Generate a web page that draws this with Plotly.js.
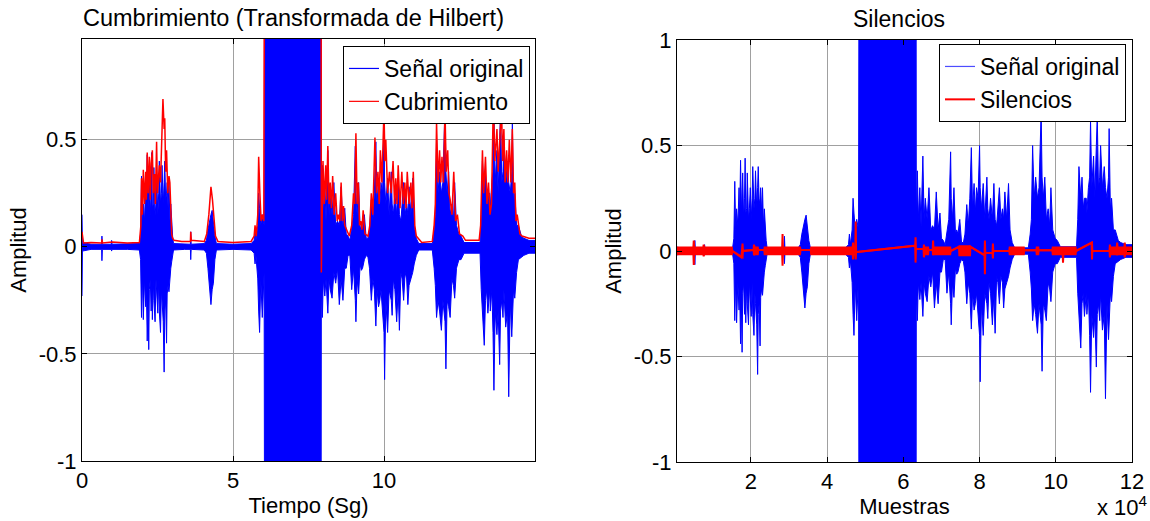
<!DOCTYPE html>
<html><head><meta charset="utf-8">
<script src="https://cdn.plot.ly/plotly-3.0.1.min.js"></script>
<style>html,body{margin:0;padding:0;background:#fff}#chart{width:1150px;height:521px}</style>
</head><body><div id="chart"></div>
<script>
// Sampling rate linking seconds (left panel) to samples (right panel)
const FS = 8000;

// Original signal: upper / lower peak envelope (time in s)
const blueT = [
  0.00, 0.015, 0.30, 0.65, 0.66, 0.675, 0.97, 0.98, 0.995, 1.50,
  1.90, 1.94, 1.97, 2.00, 2.03, 2.07, 2.11, 2.13, 2.16, 2.19,
  2.21, 2.23, 2.26, 2.29, 2.31, 2.33, 2.36, 2.38, 2.42, 2.45,
  2.48, 2.51, 2.54, 2.56, 2.60, 2.63, 2.65, 2.69, 2.72, 2.74,
  2.77, 2.80, 2.82, 2.85, 2.88, 2.91, 2.94, 2.97, 3.00, 3.03,
  3.40, 3.59, 3.60, 3.615, 4.05, 4.12, 4.17, 4.22, 4.27, 4.31,
  4.35, 4.40, 4.45, 5.00, 5.60, 5.70, 5.73, 5.76, 5.82, 5.85,
  5.88, 5.92, 5.97, 6.03, 6.04, 7.92, 7.925, 7.96, 7.99, 8.04,
  8.08, 8.14, 8.18, 8.22, 8.28, 8.34, 8.40, 8.46, 8.52, 8.58,
  8.64, 8.70, 8.75, 8.81, 8.87, 8.93, 8.99, 9.05, 9.07, 9.11,
  9.16, 9.21, 9.25, 9.29, 9.35, 9.41, 9.47, 9.52, 9.58, 9.63,
  9.68, 9.73, 9.77, 9.82, 9.86, 9.90, 9.95, 10.00, 10.02, 10.06,
  10.12, 10.17, 10.24, 10.27, 10.31, 10.36, 10.42, 10.47, 10.51, 10.56,
  10.60, 10.65, 10.70, 10.75, 10.79, 10.83, 10.89, 10.95, 11.00, 11.07,
  11.15, 11.60, 11.66, 11.70, 11.74, 11.79, 11.84, 11.90, 11.95, 12.02,
  12.05, 12.09, 12.14, 12.19, 12.25, 12.30, 12.34, 12.40, 12.48, 12.55,
  12.65, 13.18, 13.22, 13.26, 13.32, 13.36, 13.40, 13.44, 13.50, 13.52,
  13.57, 13.61, 13.64, 13.68, 13.74, 13.78, 13.83, 13.86, 13.90, 13.94,
  13.97, 14.03, 14.09, 14.13, 14.18, 14.23, 14.25, 14.29, 14.33, 14.39,
  14.45, 14.55, 14.63, 14.80, 15.00
];
const blueHi = [
  0.15, 0.02, 0.012, 0.012, 0.05, 0.012, 0.012, 0.03, 0.012, 0.012,
  0.015, 0.06, 0.33, 0.10, 0.20, 0.12, 0.30, 0.15, 0.43, 0.18,
  0.30, 0.37, 0.15, 0.25, 0.44, 0.18, 0.20, 0.37, 0.15, 0.20,
  0.30, 0.15, 0.25, 0.40, 0.20, 0.25, 0.38, 0.20, 0.30, 0.40,
  0.22, 0.25, 0.30, 0.18, 0.30, 0.12, 0.20, 0.08, 0.05, 0.015,
  0.012, 0.012, 0.07, 0.012, 0.015, 0.03, 0.08, 0.12, 0.15, 0.17,
  0.10, 0.05, 0.015, 0.012, 0.015, 0.03, 0.08, 0.03, 0.10, 0.25,
  0.18, 0.10, 0.15, 0.10, 1.0, 1.0, 0.15, 0.38, 0.15, 0.30,
  0.12, 0.45, 0.15, 0.25, 0.15, 0.30, 0.10, 0.12, 0.10, 0.28,
  0.10, 0.18, 0.06, 0.05, 0.03, 0.08, 0.15, 0.47, 0.25, 0.15,
  0.30, 0.08, 0.10, 0.08, 0.15, 0.04, 0.04, 0.08, 0.22, 0.12,
  0.25, 0.49, 0.20, 0.32, 0.18, 0.30, 0.25, 0.50, 0.30, 0.20,
  0.32, 0.15, 0.35, 0.20, 0.15, 0.25, 0.15, 0.32, 0.15, 0.12,
  0.20, 0.30, 0.15, 0.20, 0.15, 0.28, 0.15, 0.32, 0.10, 0.04,
  0.015, 0.015, 0.08, 0.15, 0.50, 0.25, 0.35, 0.25, 0.30, 0.66,
  0.35, 0.25, 0.35, 0.15, 0.20, 0.12, 0.30, 0.10, 0.06, 0.05,
  0.02, 0.02, 0.15, 0.40, 0.25, 0.35, 0.20, 0.25, 0.25, 0.18,
  0.30, 0.35, 0.62, 0.30, 0.45, 0.25, 0.50, 0.64, 0.30, 0.35,
  0.50, 0.30, 0.40, 0.30, 0.25, 0.35, 0.58, 0.20, 0.25, 0.10,
  0.10, 0.05, 0.04, 0.03, 0.03
];
const blueLo = [
  -0.23, -0.02, -0.012, -0.012, -0.065, -0.012, -0.012, -0.02, -0.012, -0.012,
  -0.015, -0.06, -0.33, -0.12, -0.34, -0.15, -0.28, -0.18, -0.44, -0.25,
  -0.48, -0.20, -0.15, -0.30, -0.18, -0.34, -0.15, -0.25, -0.35, -0.15,
  -0.28, -0.31, -0.15, -0.30, -0.40, -0.20, -0.25, -0.35, -0.585, -0.30,
  -0.25, -0.45, -0.22, -0.18, -0.21, -0.12, -0.10, -0.07, -0.05, -0.015,
  -0.012, -0.012, -0.06, -0.012, -0.015, -0.03, -0.10, -0.18, -0.27, -0.20,
  -0.17, -0.06, -0.015, -0.012, -0.015, -0.03, -0.08, -0.04, -0.15, -0.30,
  -0.40, -0.15, -0.33, -0.12, -1.0, -1.0, -0.20, -0.33, -0.15, -0.23,
  -0.15, -0.31, -0.15, -0.20, -0.24, -0.12, -0.17, -0.10, -0.27, -0.15,
  -0.25, -0.10, -0.10, -0.04, -0.04, -0.20, -0.10, -0.25, -0.35, -0.15,
  -0.22, -0.08, -0.11, -0.10, -0.06, -0.04, -0.05, -0.10, -0.25, -0.15,
  -0.20, -0.37, -0.20, -0.28, -0.25, -0.20, -0.30, -0.40, -0.62, -0.25,
  -0.40, -0.20, -0.25, -0.32, -0.15, -0.20, -0.35, -0.20, -0.39, -0.12,
  -0.15, -0.25, -0.12, -0.15, -0.27, -0.18, -0.15, -0.12, -0.08, -0.04,
  -0.015, -0.015, -0.10, -0.18, -0.33, -0.25, -0.30, -0.39, -0.25, -0.35,
  -0.57, -0.25, -0.28, -0.33, -0.15, -0.18, -0.24, -0.10, -0.06, -0.06,
  -0.03, -0.03, -0.20, -0.30, -0.46, -0.25, -0.20, -0.31, -0.20, -0.30,
  -0.20, -0.40, -0.67, -0.30, -0.41, -0.30, -0.55, -0.30, -0.25, -0.33,
  -0.20, -0.375, -0.30, -0.70, -0.25, -0.42, -0.30, -0.20, -0.24, -0.12,
  -0.06, -0.05, -0.04, -0.03, -0.03
];

// Hilbert envelope ("Cubrimiento"), time in s
const hilbT = [
  0.00, 0.02, 0.05, 0.30, 0.65, 0.66, 0.68, 1.00, 1.50, 1.90,
  1.95, 1.97, 2.00, 2.03, 2.07, 2.11, 2.13, 2.16, 2.19, 2.23,
  2.26, 2.29, 2.33, 2.36, 2.40, 2.43, 2.47, 2.50, 2.56, 2.60,
  2.64, 2.68, 2.72, 2.74, 2.77, 2.80, 2.84, 2.88, 2.91, 2.94,
  2.97, 3.00, 3.05, 3.30, 3.59, 3.60, 3.62, 4.05, 4.13, 4.20,
  4.27, 4.32, 4.38, 4.42, 4.50, 5.00, 5.60, 5.70, 5.73, 5.77,
  5.82, 5.85, 5.89, 5.93, 5.97, 6.02, 6.035, 7.92, 7.925, 7.94,
  7.98, 8.02, 8.07, 8.10, 8.14, 8.18, 8.22, 8.26, 8.30, 8.35,
  8.40, 8.45, 8.49, 8.54, 8.58, 8.62, 8.66, 8.70, 8.75, 8.85,
  8.93, 8.99, 9.03, 9.07, 9.11, 9.15, 9.19, 9.23, 9.27, 9.31,
  9.37, 9.47, 9.53, 9.58, 9.63, 9.70, 9.75, 9.80, 9.84, 9.88,
  9.93, 10.00, 10.03, 10.06, 10.12, 10.18, 10.24, 10.30, 10.35, 10.39,
  10.43, 10.47, 10.53, 10.59, 10.64, 10.69, 10.73, 10.77, 10.83, 10.89,
  10.93, 10.97, 11.02, 11.07, 11.25, 11.60, 11.66, 11.70, 11.74, 11.79,
  11.84, 11.88, 11.92, 11.97, 12.02, 12.06, 12.11, 12.15, 12.19, 12.25,
  12.31, 12.37, 12.43, 12.50, 12.61, 12.70, 13.15, 13.20, 13.26, 13.30,
  13.36, 13.41, 13.46, 13.51, 13.56, 13.62, 13.67, 13.74, 13.78, 13.82,
  13.89, 13.93, 13.97, 14.01, 14.06, 14.10, 14.15, 14.20, 14.25, 14.29,
  14.33, 14.37, 14.41, 14.50, 14.57, 14.80, 15.00
];
const hilbV = [
  0.07, 0.03, 0.018, 0.02, 0.018, 0.035, 0.018, 0.022, 0.018, 0.02,
  0.10, 0.32, 0.15, 0.36, 0.20, 0.35, 0.22, 0.44, 0.25, 0.42,
  0.22, 0.39, 0.45, 0.25, 0.34, 0.20, 0.49, 0.25, 0.38, 0.30,
  0.45, 0.69, 0.55, 0.60, 0.35, 0.45, 0.25, 0.33, 0.30, 0.10,
  0.06, 0.04, 0.03, 0.025, 0.025, 0.07, 0.03, 0.025, 0.06, 0.15,
  0.28, 0.22, 0.12, 0.05, 0.025, 0.02, 0.025, 0.05, 0.10, 0.05,
  0.15, 0.42, 0.25, 0.12, 0.15, 0.12, 1.05, 1.05, -0.12, 0.10,
  0.40, 0.20, 0.38, 0.22, 0.47, 0.20, 0.30, 0.18, 0.33, 0.15,
  0.25, 0.12, 0.15, 0.12, 0.30, 0.12, 0.19, 0.10, 0.08, 0.05,
  0.10, 0.25, 0.20, 0.53, 0.20, 0.30, 0.10, 0.12, 0.08, 0.17,
  0.06, 0.05, 0.10, 0.25, 0.15, 0.51, 0.25, 0.35, 0.20, 0.45,
  0.30, 0.64, 0.40, 0.50, 0.25, 0.35, 0.25, 0.40, 0.20, 0.32,
  0.20, 0.38, 0.18, 0.35, 0.20, 0.30, 0.18, 0.35, 0.20, 0.30,
  0.18, 0.35, 0.10, 0.05, 0.02, 0.025, 0.10, 0.20, 0.58, 0.30,
  0.45, 0.30, 0.42, 0.30, 0.64, 0.35, 0.45, 0.25, 0.22, 0.15,
  0.35, 0.12, 0.15, 0.06, 0.05, 0.03, 0.03, 0.10, 0.45, 0.25,
  0.42, 0.20, 0.30, 0.15, 0.20, 0.68, 0.40, 0.55, 0.35, 0.45,
  0.65, 0.40, 0.55, 0.30, 0.45, 0.30, 0.50, 0.30, 0.55, 0.25,
  0.30, 0.12, 0.15, 0.06, 0.05, 0.04, 0.04
];

// "Silencios": silent-sample signal (x in samples), band upper / lower
const silX = [
  600, 4900, 5000, 5100, 7500, 7600, 7700, 15000, 15100, 17500,
  17800, 17900, 20700, 20800, 21000, 21800, 21900, 23500, 23600, 28200,
  28300, 28400, 32900, 33000, 35700, 35800, 46700, 46800, 46900, 47400,
  47500, 47600, 63100, 63200, 63300, 65300, 65400, 65500, 66500, 66600,
  67700, 67800, 67900, 72300, 72400, 74600, 74700, 77500, 77600, 81300,
  81400, 81500, 83400, 83500, 83600, 87800, 87900, 91600, 91700, 94900,
  95000, 95400, 95500, 99100, 99200, 101800, 101900, 102000, 105200, 105300,
  109400, 109500, 109600, 114100, 114200, 114300, 116000, 116100, 116200, 118000,
  118100, 118200, 120000
];
const silHi = [
  0.017, 0.017, 0.05, 0.017, 0.017, 0.03, 0.017, 0.017, 0.0, -0.03,
  0.035, 0.0, 0.005, 0.03, 0.017, 0.017, 0.005, 0.005, 0.017, 0.017,
  0.08, 0.017, 0.017, 0.005, 0.005, 0.017, 0.017, 0.04, 0.017, 0.017,
  0.14, -0.005, 0.025, 0.065, 0.01, 0.01, 0.03, 0.017, 0.017, 0.005,
  0.005, 0.05, 0.017, 0.017, 0.0, 0.02, 0.022, 0.022, 0.02, -0.02,
  0.05, -0.01, -0.01, 0.035, 0.0, 0.0, 0.017, 0.017, 0.003, 0.003,
  0.017, 0.017, 0.003, 0.003, 0.017, 0.017, 0.017, 0.017, 0.017, 0.0,
  0.04, 0.04, 0.0, 0.0, 0.03, 0.017, 0.017, 0.04, 0.017, 0.017,
  0.04, 0.017, 0.017
];
const silLo = [
  -0.015, -0.015, -0.066, -0.015, -0.015, -0.025, -0.015, -0.015, 0.0, -0.03,
  -0.03, 0.0, 0.005, -0.02, -0.015, -0.015, 0.005, 0.005, -0.015, -0.015,
  -0.07, -0.015, -0.015, 0.005, 0.005, -0.015, -0.015, -0.04, -0.015, -0.015,
  -0.04, -0.005, 0.025, -0.055, 0.01, 0.01, -0.03, -0.015, -0.015, 0.005,
  0.005, -0.02, -0.015, -0.015, 0.0, 0.02, -0.02, -0.02, 0.02, -0.02,
  -0.11, -0.01, -0.01, -0.035, 0.0, 0.0, -0.015, -0.015, 0.003, 0.003,
  -0.015, -0.015, 0.003, 0.003, -0.015, -0.015, -0.055, -0.015, -0.015, 0.0,
  0.04, -0.04, 0.0, 0.0, -0.03, -0.015, -0.015, -0.02, -0.015, -0.015,
  -0.03, -0.015, -0.015
];

// Axis ticks
const leftXTicks = [0, 5, 10];
const leftYTicks = [-1, -0.5, 0, 0.5];
const rightXTicks = [20000, 40000, 60000, 80000, 100000, 120000];
const rightXLabels = ['2', '4', '6', '8', '10', '12'];
const rightYTicks = [-1, -0.5, 0, 0.5, 1];

const FONT = 'Liberation Sans, Arial, Helvetica, sans-serif';
const BLUE = '#0000ff', RED = '#ff0000';
const W = 1150, H = 521;
const px = v => v / W, py = v => 1 - v / H;

const blueSamples = blueT.map(t => t * FS);

const traces = [
  {x: blueT, y: blueLo, xaxis: 'x', yaxis: 'y', mode: 'lines', line: {color: BLUE, width: 1}, showlegend: false, hoverinfo: 'skip'},
  {x: blueT, y: blueHi, xaxis: 'x', yaxis: 'y', mode: 'lines', line: {color: BLUE, width: 1}, fill: 'tonexty', fillcolor: BLUE, showlegend: false, hoverinfo: 'skip'},
  {x: hilbT, y: hilbV, xaxis: 'x', yaxis: 'y', mode: 'lines', line: {color: RED, width: 1.5}, showlegend: false, hoverinfo: 'skip'},
  {x: [null], y: [null], xaxis: 'x', yaxis: 'y', mode: 'lines', line: {color: BLUE, width: 1.2}, name: 'Señal original', legend: 'legend'},
  {x: [null], y: [null], xaxis: 'x', yaxis: 'y', mode: 'lines', line: {color: RED, width: 1.2}, name: 'Cubrimiento', legend: 'legend'},

  {x: blueSamples, y: blueLo, xaxis: 'x2', yaxis: 'y2', mode: 'lines', line: {color: BLUE, width: 1}, showlegend: false, hoverinfo: 'skip'},
  {x: blueSamples, y: blueHi, xaxis: 'x2', yaxis: 'y2', mode: 'lines', line: {color: BLUE, width: 1}, fill: 'tonexty', fillcolor: BLUE, showlegend: false, hoverinfo: 'skip'},
  {x: silX, y: silLo, xaxis: 'x2', yaxis: 'y2', mode: 'lines', line: {color: RED, width: 2}, showlegend: false, hoverinfo: 'skip'},
  {x: silX, y: silHi, xaxis: 'x2', yaxis: 'y2', mode: 'lines', line: {color: RED, width: 2}, fill: 'tonexty', fillcolor: RED, showlegend: false, hoverinfo: 'skip'},
  {x: [null], y: [null], xaxis: 'x2', yaxis: 'y2', mode: 'lines', line: {color: '#4d4dff', width: 1.2}, name: 'Señal original', legend: 'legend2'},
  {x: [null], y: [null], xaxis: 'x2', yaxis: 'y2', mode: 'lines', line: {color: RED, width: 2}, name: 'Silencios', legend: 'legend2'}
];

const axisCommon = {
  showline: true, mirror: 'ticks', linecolor: '#000', linewidth: 1,
  ticks: 'inside', ticklen: 5, tickcolor: '#000', tickwidth: 1,
  showgrid: true, gridcolor: '#a0a0a0', gridwidth: 1, zeroline: false,
  tickfont: {family: FONT, size: 22, color: '#000'}, automargin: false, fixedrange: true
};

const legendCommon = {
  xanchor: 'right', yanchor: 'top', bgcolor: '#ffffff', bordercolor: '#000000', borderwidth: 1,
  font: {family: FONT, size: 23, color: '#000'}, tracegroupgap: 0, itemwidth: 30, traceorder: 'normal'
};

const layout = {
  width: W, height: H,
  margin: {l: 0, r: 0, t: 0, b: 0},
  paper_bgcolor: '#fff', plot_bgcolor: '#fff',
  showlegend: true,
  xaxis: Object.assign({}, axisCommon, {
    domain: [px(82), px(535)], range: [0, 15], tickvals: leftXTicks, ticktext: leftXTicks.map(String),
    anchor: 'y', title: {text: 'Tiempo (Sg)', font: {family: FONT, size: 22, color: '#000'}, standoff: 5}
  }),
  yaxis: Object.assign({}, axisCommon, {
    domain: [py(461), py(39)], range: [-1, 0.97], tickvals: leftYTicks, ticktext: leftYTicks.map(String),
    anchor: 'x', title: {text: 'Amplitud', font: {family: FONT, size: 22, color: '#000'}, standoff: 5}
  }),
  xaxis2: Object.assign({}, axisCommon, {
    domain: [px(677), px(1132)], range: [600, 120000], tickvals: rightXTicks, ticktext: rightXLabels,
    anchor: 'y2', title: {text: 'Muestras', font: {family: FONT, size: 22, color: '#000'}, standoff: 5}
  }),
  yaxis2: Object.assign({}, axisCommon, {
    domain: [py(462), py(40)], range: [-1, 1], tickvals: rightYTicks, ticktext: rightYTicks.map(String),
    anchor: 'x2', title: {text: 'Amplitud', font: {family: FONT, size: 22, color: '#000'}, standoff: 5}
  }),
  legend: Object.assign({}, legendCommon, {x: px(530), y: py(46)}),
  legend2: Object.assign({}, legendCommon, {x: px(1126), y: py(44)}),
  annotations: [
    {text: 'Cumbrimiento (Transformada de Hilbert)', xref: 'paper', yref: 'paper', x: px(293), y: py(18),
     xanchor: 'center', yanchor: 'middle', showarrow: false, font: {family: FONT, size: 23.5, color: '#000'}},
    {text: 'Silencios', xref: 'paper', yref: 'paper', x: px(899), y: py(19),
     xanchor: 'center', yanchor: 'middle', showarrow: false, font: {family: FONT, size: 23, color: '#000'}},
    {text: 'x 10<sup>4</sup>', xref: 'paper', yref: 'paper', x: px(1149), y: py(521), borderpad: 0,
     xanchor: 'right', yanchor: 'bottom', showarrow: false, font: {family: FONT, size: 22, color: '#000'}}
  ]
};

Plotly.newPlot('chart', traces, layout, {staticPlot: true, displayModeBar: false});
</script>
</body></html>
